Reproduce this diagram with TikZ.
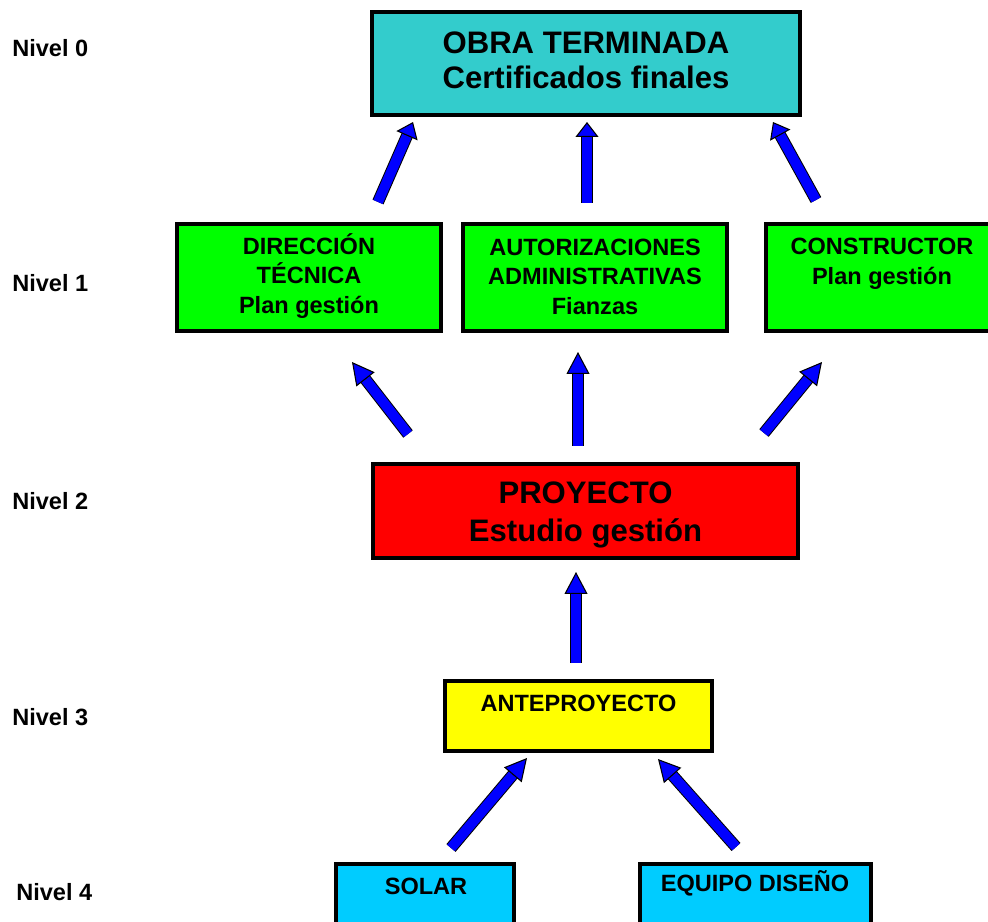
\documentclass[tikz,border=0pt]{standalone}
\usepackage{fontspec}
\setmainfont{Liberation Sans}
\usepackage{tikz}
\usetikzlibrary{arrows.meta,positioning}
\definecolor{OTCian}{HTML}{33CCCC}
\definecolor{OTVerde}{HTML}{00FF00}
\definecolor{OTRojo}{HTML}{FF0000}
\definecolor{OTAmarillo}{HTML}{FFFF00}
\definecolor{OTCeleste}{HTML}{00CCFF}
\definecolor{OTAzul}{HTML}{0000FF}
\newcommand{\txtgrande}{\fontsize{17.7}{20}\selectfont\bfseries}
\newcommand{\txtproy}{\fontsize{17.7}{21.6}\selectfont\bfseries}
\newcommand{\txtnormal}{\fontsize{13.4}{16.8}\selectfont\bfseries}
\tikzset{
  caja/.style={draw=black, line width=0.08cm, inner sep=0pt},
  texto/.style={align=center, inner sep=0pt, font=\txtnormal},
  nivel/.style={anchor=west, inner sep=0pt, font=\txtnormal},
  flecha/.style={draw=OTAzul, line width=0.2cm,
    -{Triangle[length=#1, width=0.46cm, line width=0.6pt, color=black, fill=OTAzul]},
    preaction={draw=black, line width=0.24cm, -, shorten >=0.25cm}},
  flecha/.default=0.44cm,
}

\begin{document}
\begin{tikzpicture}[x=0.02cm, y=-0.02cm]
\useasboundingbox (0,0) rectangle (988,922);

\node[nivel] (n0) at (12,48) {Nivel 0};
\node[nivel] (n1) at (12,283) {Nivel 1};
\node[nivel] (n2) at (12,501) {Nivel 2};
\node[nivel] (n3) at (12,717) {Nivel 3};
\node[nivel] (n4) at (16,892) {Nivel 4};

\node[caja, fill=OTCian, minimum width=8.56cm, minimum height=2.06cm] (obra) at (586,63.5) {};
\node[texto, font=\txtgrande] (obra-t) at (586,60.5) {OBRA TERMINADA\\Certificados finales};

\node[caja, fill=OTVerde, minimum width=5.28cm, minimum height=2.14cm] (dir) at (309,277.5) {};
\node[texto] (dir-t) at (309,276) {DIRECCIÓN\\TÉCNICA\\Plan gestión};
\node[caja, fill=OTVerde, minimum width=5.28cm, minimum height=2.14cm] (aut) at (595,277.5) {};
\node[texto] (aut-t) at (595,276.5) {AUTORIZACIONES\\ADMINISTRATIVAS\\Fianzas};
\node[caja, fill=OTVerde, minimum width=4.64cm, minimum height=2.14cm] (cons) at (882,277.5) {};
\node[texto] (cons-t) at (882,264) {CONSTRUCTOR\\Plan gestión};

\node[caja, fill=OTRojo, minimum width=8.5cm, minimum height=1.88cm] (proy) at (585.5,511) {};
\node[texto, font=\txtproy] (proy-t) at (585.5,514.5) {PROYECTO\\Estudio gestión};

\node[caja, fill=OTAmarillo, minimum width=5.34cm, minimum height=1.4cm] (ante) at (578.5,716) {};
\node[texto] (ante-t) at (578.5,703) {ANTEPROYECTO};

\node[caja, fill=OTCeleste, minimum width=3.56cm, minimum height=1.4cm] (solar) at (425,899) {};
\node[texto] (solar-t) at (426,886) {SOLAR};
\node[caja, fill=OTCeleste, minimum width=4.62cm, minimum height=1.4cm] (equipo) at (755.5,899) {};
\node[texto] (equipo-t) at (755,883) {EQUIPO DISEÑO};

\coordinate (dir-a) at (378,202);
\coordinate (obra-a) at (413,122);
\coordinate (aut-a) at (587,203);
\coordinate (obra-b) at (587,122);
\coordinate (cons-a) at (816,200);
\coordinate (obra-c) at (773,122);

\coordinate (proy-a) at (408,434);
\coordinate (dir-b) at (352,362);
\coordinate (proy-b) at (578,446);
\coordinate (aut-b) at (578,352);
\coordinate (proy-c) at (764,433);
\coordinate (cons-b) at (822,362);

\coordinate (ante-a) at (576,663);
\coordinate (proy-d) at (576,572);

\coordinate (solar-a) at (451,848);
\coordinate (ante-b) at (527,758);
\coordinate (equipo-a) at (736,847);
\coordinate (ante-c) at (658,759);

\draw[flecha=0.3cm] (dir-a) -- (obra-a);
\draw[flecha=0.3cm] (aut-a) -- (obra-b);
\draw[flecha=0.3cm] (cons-a) -- (obra-c);
\draw[flecha] (proy-a) -- (dir-b);
\draw[flecha] (proy-b) -- (aut-b);
\draw[flecha] (proy-c) -- (cons-b);
\draw[flecha] (ante-a) -- (proy-d);
\draw[flecha] (solar-a) -- (ante-b);
\draw[flecha] (equipo-a) -- (ante-c);
\end{tikzpicture}
\end{document}
